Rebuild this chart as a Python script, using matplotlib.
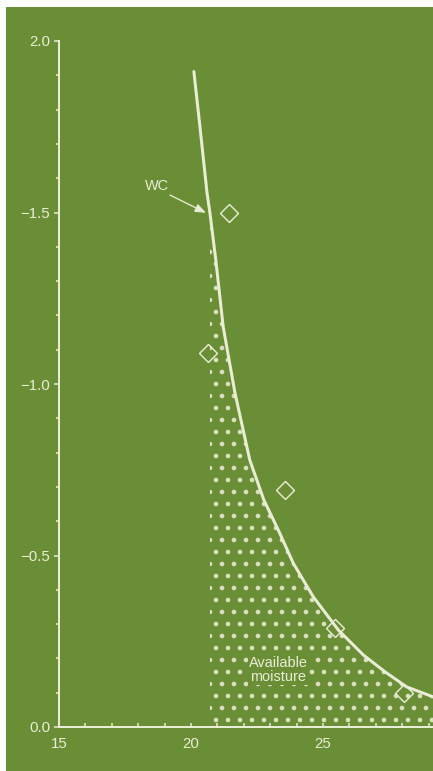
"""Moisture curve (WC) with the stippled available-moisture area."""

import matplotlib

matplotlib.use("Agg")
import matplotlib.pyplot as plt
from matplotlib.patches import Rectangle
from matplotlib.ticker import MultipleLocator

# curve
curve_x = [20.11, 20.34, 20.61, 20.72, 20.94, 21.22, 21.67, 22.23, 22.76,
           23.31, 23.88, 24.63, 25.58, 26.53, 27.35, 28.17, 29.17]
curve_y = [1.911, 1.750, 1.556, 1.498, 1.362, 1.167, 0.973, 0.778, 0.662,
           0.574, 0.477, 0.380, 0.283, 0.210, 0.161, 0.117, 0.088]

# measured points (diamonds)
pts_x = [21.44, 20.64, 23.56, 25.45, 28.07]
pts_y = [1.50, 1.09, 0.69, 0.29, 0.10]

fill_start = 20.72
y_ticks = [0.0, 0.5, 1.0, 1.5, 2.0]
y_labels = ["0.0", "\u22120.5", "\u22121.0", "\u22121.5", "2.0"]
x_ticks = [15, 20, 25]

GREEN = "#6a8e35"
CREAM = "#eaedd6"

plt.rcParams["font.family"] = ["Liberation Sans", "DejaVu Sans"]
plt.rcParams["hatch.linewidth"] = 2.2

DPI = 72
fig = plt.figure(figsize=(433 / DPI, 771 / DPI), dpi=DPI)
fig.patch.set_facecolor("white")
fig.add_artist(Rectangle((6 / 433, 0), 1, (771 - 7) / 771, transform=fig.transFigure,
                         facecolor=GREEN, edgecolor="none", zorder=-10))

ax = fig.add_axes([59 / 433, 44 / 771, 1 - 59 / 433, 686 / 771])
ax.set_facecolor("none")

# stippled area under the curve
ax.fill_between(curve_x, 0, curve_y, where=[x >= fill_start for x in curve_x],
                facecolor="none", edgecolor="#d9e0c0", linewidth=0, hatch=".")
ax.plot(curve_x, curve_y, color=CREAM, lw=3, solid_capstyle="round",
        solid_joinstyle="round")
ax.plot(pts_x, pts_y, ls="none", marker="D", ms=13, mfc="none", mec=CREAM, mew=1.4)

ax.text(18.71, 1.577, "WC", color=CREAM, fontsize=14.5, ha="center", va="center")
ax.annotate("", xy=(20.57, 1.499), xytext=(19.20, 1.551),
            arrowprops=dict(arrowstyle="-|>,head_length=0.9,head_width=0.35",
                            color=CREAM, lw=1.3, shrinkA=0, shrinkB=0))
ax.text(23.30, 0.166, "Available\nmoisture", color=CREAM, fontsize=14.5,
        ha="center", va="center", linespacing=1.0,
        bbox=dict(facecolor=GREEN, edgecolor="none", pad=1))

ax.set_xlim(15, 29.17)
ax.set_ylim(0, 2.0)
ax.set_xticks(x_ticks)
ax.set_yticks(y_ticks, y_labels)
ax.xaxis.set_minor_locator(MultipleLocator(1))
ax.yaxis.set_minor_locator(MultipleLocator(0.1))

for s in ["top", "right"]:
    ax.spines[s].set_visible(False)
for s in ["left", "bottom"]:
    ax.spines[s].set_color(CREAM)
    ax.spines[s].set_linewidth(2)

ax.tick_params(axis="y", which="major", direction="out", length=5, width=1.5,
               color=CREAM, labelcolor=CREAM, labelsize=15, pad=4)
ax.tick_params(axis="y", which="minor", direction="out", length=3, width=1.5, color=CREAM)
ax.tick_params(axis="x", which="both", direction="in", length=4, width=1.5,
               color=CREAM, labelcolor=CREAM, labelsize=15, pad=10)

fig.savefig("out.png", dpi=DPI, facecolor=fig.get_facecolor())
